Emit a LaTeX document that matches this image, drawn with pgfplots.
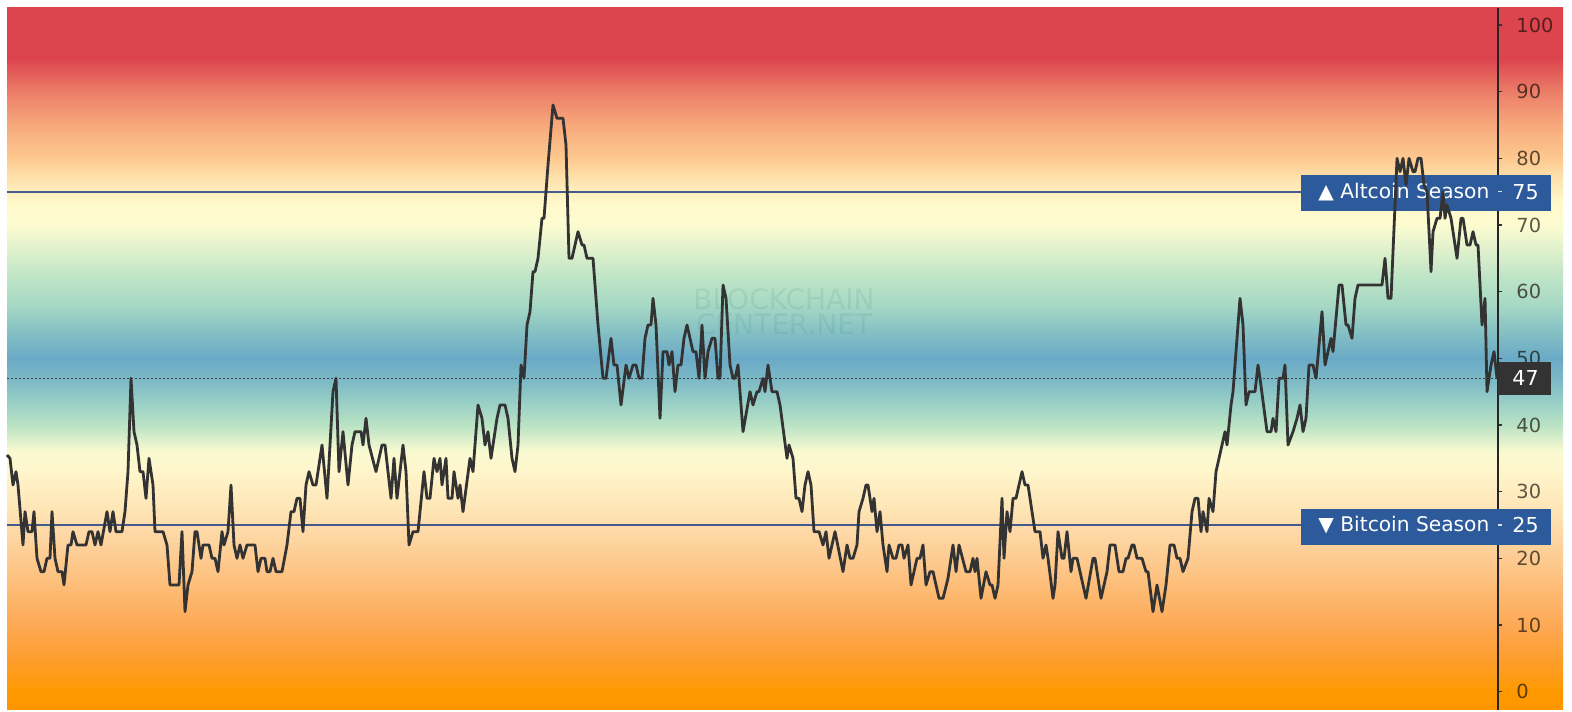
\documentclass[border=0pt]{standalone}
\usepackage{pgfplots}
\pgfplotsset{compat=1.18}
\usepackage{fontspec}
\setmainfont{DejaVu Sans}
\definecolor{s00}{HTML}{FF9600}
\definecolor{s01}{HTML}{FF9900}
\definecolor{s02}{HTML}{FD9E2E}
\definecolor{s03}{HTML}{FDA955}
\definecolor{s04}{HTML}{FDBA72}
\definecolor{s05}{HTML}{FDCB91}
\definecolor{s06}{HTML}{FEDCAB}
\definecolor{s07}{HTML}{FEE7B8}
\definecolor{s08}{HTML}{FFF5CB}
\definecolor{s09}{HTML}{FAFAD0}
\definecolor{s10}{HTML}{B9E3C4}
\definecolor{s11}{HTML}{93CBC5}
\definecolor{s12}{HTML}{7BB8C6}
\definecolor{s13}{HTML}{6AAAC6}
\definecolor{s14}{HTML}{85C0C4}
\definecolor{s15}{HTML}{A6D8C4}
\definecolor{s16}{HTML}{BDE4C6}
\definecolor{s17}{HTML}{DDF0CC}
\definecolor{s18}{HTML}{FCFBD0}
\definecolor{s19}{HTML}{FFFACC}
\definecolor{s20}{HTML}{FEE2AD}
\definecolor{s21}{HTML}{FDC98F}
\definecolor{s22}{HTML}{F7A97C}
\definecolor{s23}{HTML}{EC7D68}
\definecolor{s24}{HTML}{DC444E}
\definecolor{s25}{HTML}{DC444E}
\pgfdeclareverticalshading{bgshade}{100bp}{%
color(0bp)=(s00); color(25bp)=(s00); color(26.28bp)=(s01); color(28.66bp)=(s02);
color(31.03bp)=(s03); color(33.40bp)=(s04); color(35.78bp)=(s05); color(38.15bp)=(s06);
color(39.58bp)=(s07); color(41.95bp)=(s08); color(43.38bp)=(s09); color(45.28bp)=(s10);
color(47.17bp)=(s11); color(48.60bp)=(s12); color(50.02bp)=(s13); color(51.92bp)=(s14);
color(53.82bp)=(s15); color(55.72bp)=(s16); color(57.62bp)=(s17); color(59.52bp)=(s18);
color(60.94bp)=(s19); color(62.84bp)=(s20); color(64.27bp)=(s21); color(66.64bp)=(s22);
color(69.02bp)=(s23); color(71.39bp)=(s24); color(75bp)=(s25); color(100bp)=(s25)}
\definecolor{boxblue}{HTML}{2D5A9B}
\definecolor{levline}{HTML}{46598C}
\definecolor{dataline}{HTML}{333333}
\definecolor{curbox}{HTML}{333333}
\begin{document}
\begin{tikzpicture}
\begin{axis}[
  set layers,
  scale only axis, width=745.5pt, height=351pt,
  xmin=7, xmax=1498, ymin=-2.7, ymax=102.6,
  axis x line=none, axis y line*=right,
  y axis line style={draw=black!85, line width=0.6pt},
  ytick={0,10,...,100},
  tick align=outside, major tick length=2.2pt,
  tick style={black!80, line width=0.6pt},
  clip=false,
  /pgf/number format/assume math mode=true,
  yticklabel style={font=\fontsize{9.7}{11}\selectfont, text=black!90!brown, text opacity=0.68, xshift=3.5pt},
]
\begin{pgfonlayer}{axis background}
\fill[shading=bgshade] (axis cs:7,-2.7) rectangle (axis cs:1563,102.6);
\end{pgfonlayer}
\path (axis cs:0,-3.0) rectangle (axis cs:1572,103.75);
% watermark
\node[text=teal!60!gray, opacity=0.12, font=\fontsize{14}{12.5}\selectfont, align=center]
  at (axis cs:784,57) {BLOCKCHAIN\\CENTER.NET};
% level lines
\draw[levline, line width=0.9pt] (axis cs:7,75) -- (axis cs:1301,75);
\draw[levline, line width=0.9pt] (axis cs:7,25) -- (axis cs:1301,25);
\draw[black!75, line width=0.6pt, dash pattern=on 1pt off 1pt] (axis cs:7,47) -- (axis cs:1498,47);
% boxes
\fill[boxblue] (axis cs:1301,72.1) rectangle (axis cs:1551,77.5);
\fill[boxblue] (axis cs:1301,22.0) rectangle (axis cs:1551,27.4);
\fill[curbox] (axis cs:1498,44.5) rectangle (axis cs:1551,49.5);
\draw[white!80!boxblue, line width=0.6pt] (axis cs:1498,75) -- (axis cs:1502,75);
\draw[white!80!boxblue, line width=0.6pt] (axis cs:1498,25) -- (axis cs:1502,25);
\node[anchor=west, text=white, font=\fontsize{10.1}{12}\selectfont, inner sep=0pt] at (axis cs:1318,75) {▲ Altcoin Season};
\node[anchor=west, text=white, font=\fontsize{10.1}{12}\selectfont, inner sep=0pt] at (axis cs:1318,25) {▼ Bitcoin Season};
\node[anchor=west, text=white, font=\fontsize{10.3}{12}\selectfont, inner sep=0pt] at (axis cs:1512,75) {75};
\node[anchor=west, text=white, font=\fontsize{10.3}{12}\selectfont, inner sep=0pt] at (axis cs:1512,25) {25};
\node[anchor=west, text=white, font=\fontsize{10.3}{12}\selectfont, inner sep=0pt] at (axis cs:1512,47) {47};
\addplot[dataline, line width=1.4pt, line join=round] coordinates {
(7,35.5)(10,35)(13,31)(16,33)(18,31)(23,22)(25,27)(28,24)(32,24)(34,27)(37,20)(41,18)(44,18)(47,20)(50,20)(52,27)(55,20)(58,18)(62,18)(64,16)(68,22)(71,22)(73,24)(77,22)(86,22)(89,24)(92,24)(95,22)(98,24)(101,22)(107,27)(110,24)(113,27)(116,24)(122,24)(125,27)(128,33)(131,47)(134,39)(137,37)(140,33)(143,33)(146,29)(149,35)(153,31)(155,24)(163,24)(167,22)(170,16)(179,16)(182,24)(185,12)(188,16)(192,18)(195,24)(197,24)(201,20)(203,22)(209,22)(212,20)(215,20)(218,18)(222,24)(224,22)(228,24)(231,31)(234,22)(237,20)(240,22)(243,20)(247,22)(255,22)(258,18)(261,20)(265,20)(267,18)(270,18)(273,20)(276,18)(282,18)(287,22)(291,27)(294,27)(297,29)(300,29)(303,24)(306,31)(309,33)(313,31)(316,31)(322,37)(327,29)(333,45)(336,47)(339,33)(343,39)(348,31)(352,37)(355,39)(361,39)(363,37)(366,41)(369,37)(376,33)(382,37)(385,37)(391,29)(394,35)(397,29)(403,37)(406,33)(409,22)(413,24)(418,24)(424,33)(427,29)(430,29)(434,35)(437,33)(440,35)(442,31)(446,35)(448,29)(452,29)(454,33)(458,29)(460,31)(463,27)(470,35)(473,33)(478,43)(482,41)(485,37)(488,39)(491,35)(497,41)(500,43)(505,43)(508,41)(512,35)(515,33)(518,37)(521,49)(524,47)(527,55)(530,57)(533,63)(535,63)(538,65)(542,71)(544,71)(548,79)(553,88)(557,86)(563,86)(566,82)(569,65)(572,65)(578,69)(582,67)(584,67)(587,65)(593,65)(598,55)(603,47)(606,47)(611,53)(614,49)(617,49)(621,43)(626,49)(629,47)(633,49)(636,49)(639,47)(642,47)(645,53)(648,55)(651,55)(653,59)(656,55)(660,41)(663,51)(667,51)(669,49)(672,51)(675,45)(678,49)(681,49)(684,53)(687,55)(690,53)(693,51)(696,51)(699,47)(702,55)(705,47)(708,51)(712,53)(715,53)(718,47)(720,47)(723,61)(726,59)(730,49)(733,47)(735,47)(738,49)(743,39)(750,45)(753,43)(757,45)(759,45)(763,47)(765,45)(768,49)(772,45)(777,45)(780,43)(787,35)(789,37)(793,35)(796,29)(799,29)(802,27)(805,31)(808,33)(811,31)(814,24)(819,24)(823,22)(826,24)(829,20)(832,22)(835,24)(843,18)(847,22)(850,20)(853,20)(857,22)(859,27)(863,29)(866,31)(868,31)(872,27)(874,29)(877,24)(880,27)(883,22)(887,18)(889,22)(893,20)(896,20)(899,22)(902,22)(904,20)(908,22)(911,16)(914,18)(917,20)(920,20)(923,22)(926,16)(930,18)(933,18)(939,14)(943,14)(948,17)(953,22)(956,18)(959,22)(966,18)(970,18)(973,20)(975,18)(977,20)(981,14)(986,18)(990,16)(992,16)(995,14)(998,16)(1002,29)(1004,20)(1007,27)(1010,24)(1013,29)(1016,29)(1019,31)(1022,33)(1025,31)(1028,31)(1035,24)(1040,24)(1043,20)(1046,22)(1048,20)(1053,14)(1055,16)(1058,24)(1062,20)(1064,20)(1067,24)(1071,18)(1073,20)(1077,20)(1086,14)(1093,20)(1095,20)(1101,14)(1107,18)(1110,22)(1115,22)(1119,18)(1123,18)(1126,20)(1128,20)(1132,22)(1134,22)(1137,20)(1142,20)(1146,18)(1148,18)(1153,12)(1157,16)(1162,12)(1166,16)(1170,22)(1174,22)(1177,20)(1180,20)(1183,18)(1188,20)(1192,27)(1195,29)(1198,29)(1201,24)(1203,27)(1207,24)(1209,29)(1213,27)(1216,33)(1219,35)(1222,37)(1225,39)(1227,37)(1231,43)(1233,45)(1236,51)(1240,59)(1243,55)(1246,43)(1249,45)(1255,45)(1258,49)(1260,47)(1267,39)(1271,39)(1273,41)(1276,39)(1279,47)(1283,47)(1285,49)(1288,37)(1293,39)(1297,41)(1300,43)(1303,39)(1306,41)(1309,49)(1313,49)(1316,47)(1322,57)(1325,49)(1331,53)(1333,51)(1339,61)(1342,61)(1346,55)(1348,55)(1352,53)(1355,59)(1358,61)(1382,61)(1385,65)(1388,59)(1391,59)(1397,80)(1400,78)(1403,80)(1406,76)(1409,80)(1413,78)(1415,78)(1418,80)(1421,80)(1424,76)(1427,75)(1431,63)(1433,69)(1437,71)(1440,71)(1443,75)(1445,71)(1447,73)(1451,71)(1457,65)(1461,71)(1463,71)(1467,67)(1470,67)(1473,69)(1476,67)(1478,67)(1482,55)(1485,59)(1487,45)(1491,49)(1494,51)(1497,47)
};
\end{axis}
\end{tikzpicture}
\end{document}
